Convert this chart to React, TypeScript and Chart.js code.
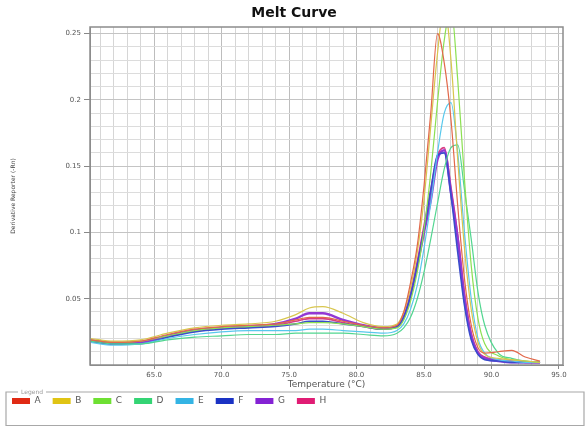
import React, { useEffect, useRef } from "react";
import { Chart, registerables } from "chart.js";

Chart.register(...registerables);

const temps = [60.3, 62, 64, 66, 68, 70, 72, 74, 75.5, 76.5, 77.5, 79, 80.5, 82, 83, 83.5, 84, 84.5, 85, 85.5, 86, 86.5, 87, 87.5, 88, 88.5, 89, 89.5, 90.5, 91.5, 92.5, 93.6];

const seriesNames = ["A", "B", "C", "D", "E", "F", "G", "H"];

const seriesA = [0.019, 0.017, 0.018, 0.023, 0.027, 0.029, 0.030, 0.031, 0.034, 0.036, 0.036, 0.033, 0.030, 0.028, 0.030, 0.040, 0.062, 0.090, 0.135, 0.190, 0.250, 0.228, 0.185, 0.120, 0.065, 0.030, 0.013, 0.009, 0.010, 0.011, 0.006, 0.003];
const seriesB = [0.020, 0.018, 0.019, 0.024, 0.028, 0.030, 0.031, 0.033, 0.038, 0.043, 0.044, 0.039, 0.032, 0.029, 0.031, 0.040, 0.058, 0.085, 0.125, 0.180, 0.235, 0.272, 0.230, 0.155, 0.088, 0.042, 0.017, 0.008, 0.005, 0.004, 0.003, 0.002];
const seriesC = [0.019, 0.017, 0.018, 0.022, 0.026, 0.028, 0.029, 0.030, 0.031, 0.032, 0.032, 0.031, 0.029, 0.027, 0.028, 0.034, 0.048, 0.070, 0.102, 0.145, 0.198, 0.245, 0.270, 0.215, 0.140, 0.075, 0.035, 0.016, 0.007, 0.004, 0.003, 0.002];
const seriesD = [0.018, 0.016, 0.016, 0.019, 0.021, 0.022, 0.023, 0.023, 0.024, 0.024, 0.024, 0.024, 0.023, 0.022, 0.024, 0.028, 0.036, 0.050, 0.070, 0.095, 0.122, 0.148, 0.164, 0.166, 0.132, 0.095, 0.055, 0.030, 0.009, 0.005, 0.003, 0.002];
const seriesE = [0.017, 0.015, 0.016, 0.020, 0.023, 0.025, 0.026, 0.026, 0.026, 0.027, 0.027, 0.026, 0.025, 0.024, 0.026, 0.031, 0.042, 0.060, 0.088, 0.122, 0.160, 0.190, 0.198, 0.160, 0.100, 0.050, 0.020, 0.009, 0.004, 0.003, 0.002, 0.002];
const seriesF = [0.018, 0.016, 0.016, 0.021, 0.025, 0.027, 0.028, 0.029, 0.031, 0.033, 0.033, 0.031, 0.029, 0.027, 0.029, 0.036, 0.052, 0.075, 0.102, 0.132, 0.158, 0.160, 0.128, 0.085, 0.045, 0.019, 0.008, 0.004, 0.003, 0.002, 0.002, 0.002];
const seriesG = [0.018, 0.016, 0.017, 0.022, 0.026, 0.028, 0.029, 0.031, 0.035, 0.039, 0.039, 0.034, 0.030, 0.028, 0.029, 0.036, 0.052, 0.075, 0.100, 0.124, 0.155, 0.162, 0.130, 0.095, 0.050, 0.022, 0.009, 0.005, 0.003, 0.002, 0.002, 0.002];
const seriesH = [0.019, 0.017, 0.017, 0.022, 0.026, 0.028, 0.029, 0.030, 0.033, 0.035, 0.035, 0.032, 0.029, 0.027, 0.029, 0.037, 0.054, 0.078, 0.105, 0.132, 0.158, 0.164, 0.134, 0.098, 0.054, 0.024, 0.010, 0.006, 0.004, 0.003, 0.002, 0.002];

const lineColors = ["#e2684a", "#d8c64e", "#8ce052", "#52d690", "#58c8ec", "#3a4ccc", "#9238d4", "#d83c84"];
const swatchColors = ["#e02a14", "#e0c414", "#6ee032", "#34d474", "#34b4e4", "#1a32c4", "#8422d4", "#e01c74"];

const xTickLabels = [65, 70, 75, 80, 85, 90, 95];
const yTickLabels = [0.05, 0.1, 0.15, 0.2, 0.25];

const TICK_FONT = { family: "DejaVu Sans", size: 7 };

export default function App() {
  const ref = useRef<HTMLCanvasElement>(null);

  useEffect(() => {
    const allSeries = [seriesA, seriesB, seriesC, seriesD, seriesE, seriesF, seriesG, seriesH];
    const isXMajor = (v: number) => xTickLabels.some((t) => Math.abs(t - v) < 1e-6);
    const isYMajor = (v: number) => yTickLabels.some((t) => Math.abs(t - v) < 1e-6);

    const framePlugin = {
      id: "frame",
      afterDraw(chart: any) {
        const { ctx, chartArea } = chart;
        ctx.save();
        ctx.strokeStyle = "#8c8c8c";
        ctx.lineWidth = 1.5;
        ctx.strokeRect(chartArea.left, chartArea.top, chartArea.right - chartArea.left, chartArea.bottom - chartArea.top);
        const top = 392;
        const bottom = 425.5;
        ctx.strokeStyle = "#a8a8a8";
        ctx.lineWidth = 1.2;
        ctx.beginPath();
        ctx.moveTo(18, top);
        ctx.lineTo(6, top);
        ctx.lineTo(6, bottom);
        ctx.lineTo(584, bottom);
        ctx.lineTo(584, top);
        ctx.lineTo(46, top);
        ctx.stroke();
        ctx.fillStyle = "#9a9a9a";
        ctx.font = "6px 'DejaVu Sans'";
        ctx.textBaseline = "middle";
        ctx.fillText("Legend", 21, top);
        ctx.restore();
      },
    };

    const chart = new Chart(ref.current as HTMLCanvasElement, {
      type: "line",
      data: {
        datasets: allSeries.map((s, i) => ({
          label: seriesNames[i],
          data: s.map((y, j) => ({ x: temps[j], y })),
          borderColor: lineColors[i],
          backgroundColor: swatchColors[i],
          borderWidth: i === 6 ? 2.4 : i === 5 || i === 7 ? 1.6 : 1.2,
          pointRadius: 0,
          cubicInterpolationMode: "monotone",
          fill: false,
        })),
      },
      options: {
        responsive: false,
        animation: false,
        layout: { padding: { left: 0, right: 0, top: 0, bottom: 12.5 } },
        plugins: {
          title: {
            display: true,
            text: "Melt Curve",
            color: "#111",
            font: { family: "DejaVu Sans", size: 14, weight: "bold" },
            padding: { top: 5, bottom: 5.2 },
          },
          legend: {
            position: "bottom",
            align: "start",
            labels: {
              boxWidth: 18,
              boxHeight: 6,
              padding: 12,
              color: "#555",
              font: { family: "DejaVu Sans", size: 9 },
              generateLabels: (c: any) =>
                c.data.datasets.map((d: any, i: number) => ({
                  text: d.label,
                  fillStyle: swatchColors[i],
                  strokeStyle: swatchColors[i],
                  lineWidth: 0,
                  hidden: false,
                  datasetIndex: i,
                  fontColor: "#555",
                })),
            },
          },
          tooltip: { enabled: false },
        },
        scales: {
          x: {
            type: "linear",
            min: 60.25,
            max: 95.3,
            ticks: {
              stepSize: 1,
              autoSkip: false,
              maxRotation: 0,
              includeBounds: false,
              color: "#555",
              font: TICK_FONT,
              padding: 2,
              callback: (v: any) => (isXMajor(Number(v)) ? Number(v).toFixed(1) : ""),
            },
            grid: {
              color: (c: any) => (isXMajor(c.tick?.value) ? "#bdbdbd" : "#d6d6d6"),
              tickColor: (c: any) => (isXMajor(c.tick?.value) ? "#888" : "rgba(0,0,0,0)"),
              tickLength: 4,
              lineWidth: 1,
            },
            border: { color: "#8c8c8c" },
            title: {
              display: true,
              text: "Temperature (°C)",
              color: "#555",
              font: { family: "DejaVu Sans", size: 9 },
              padding: { top: 0, bottom: -6 },
            },
            afterFit: (s: any) => {
              s.height = 19.5;
            },
          },
          y: {
            type: "linear",
            min: 0,
            max: 0.255,
            ticks: {
              stepSize: 0.01,
              autoSkip: false,
              includeBounds: false,
              color: "#555",
              font: TICK_FONT,
              padding: 3,
              callback: (v: any) => (isYMajor(Number(v)) ? String(Math.round(Number(v) * 100) / 100) : ""),
            },
            grid: {
              color: (c: any) => (isYMajor(c.tick?.value) ? "#c4c4c4" : "#dcdcdc"),
              tickColor: (c: any) => (isYMajor(c.tick?.value) ? "#888" : "rgba(0,0,0,0)"),
              tickLength: 6,
              lineWidth: 1,
            },
            border: { color: "#8c8c8c" },
            title: {
              display: true,
              text: "Derivative Reporter (-Rn)",
              color: "#444",
              font: { family: "DejaVu Sans", size: 6 },
              padding: { top: 10, bottom: 0 },
            },
            afterFit: (s: any) => {
              s.width = 90;
            },
          },
          y2: {
            type: "linear",
            position: "right",
            display: true,
            ticks: { display: false },
            grid: { display: false },
            border: { display: false },
            afterFit: (s: any) => {
              s.width = 25;
            },
          },
        },
      } as any,
      plugins: [framePlugin],
    });
    return () => chart.destroy();
  }, []);

  return (
    <div style={{ position: "absolute", left: 0, top: 0, width: 588, height: 428, background: "#fff" }}>
      <canvas ref={ref} width={588} height={428} style={{ display: "block" }} />
    </div>
  );
}
